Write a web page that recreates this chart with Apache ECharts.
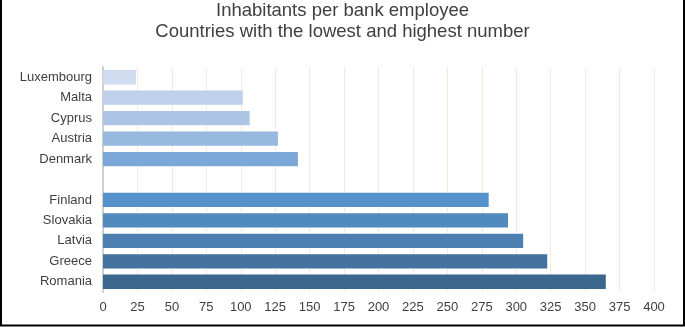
<!DOCTYPE html>
<html>
<head>
<meta charset="utf-8">
<script src="https://cdn.jsdelivr.net/npm/echarts@6/dist/echarts.min.js"></script>
<style>
  html, body { margin: 0; padding: 0; background: #ffffff; }
  #chart { width: 685px; height: 327px; }
</style>
</head>
<body>
<div id="chart"></div>
<script>
// Countries, top to bottom; the blank entry separates the lowest five from the highest five
const countries = ['Luxembourg', 'Malta', 'Cyprus', 'Austria', 'Denmark', '',
                   'Finland', 'Slovakia', 'Latvia', 'Greece', 'Romania'];
// Inhabitants per bank employee
const inhabitants = [24, 101.5, 106.5, 127, 141.5, null, 280, 294, 305, 322.5, 365];
// Bar shades, light to dark
const barColors = ['#cfdcef', '#bed0ea', '#adc5e5', '#97b8df', '#7ba7d8', '#ffffff',
                   '#5692cb', '#518abd', '#4b7fb0', '#45739f', '#3b668e'];
const xTicks = { min: 0, max: 400, interval: 25 };

const chart = echarts.init(document.getElementById('chart'), null, { renderer: 'canvas' });

chart.setOption({
  animation: false,
  backgroundColor: '#ffffff',
  title: {
    text: 'Inhabitants per bank employee\nCountries with the lowest and highest number',
    left: 'center',
    top: 0,
    padding: 0,
    textStyle: {
      fontFamily: 'Liberation Sans, Arial, sans-serif',
      fontSize: 18.5,
      fontWeight: 'normal',
      color: '#404040',
      lineHeight: 21
    }
  },
  grid: { left: 103, right: 31, top: 67, bottom: 35, containLabel: false },
  xAxis: {
    type: 'value',
    min: xTicks.min,
    max: xTicks.max,
    interval: xTicks.interval,
    axisLine: { show: false },
    axisTick: { show: false },
    axisLabel: {
      margin: 9,
      fontFamily: 'Liberation Sans, Arial, sans-serif',
      fontSize: 13,
      color: '#404040'
    },
    splitLine: { show: true, lineStyle: { color: '#fde9dc', width: 1 } }
  },
  yAxis: {
    type: 'category',
    data: countries,
    inverse: true,
    axisLine: { show: true, lineStyle: { color: '#cfcfcf', width: 2 } },
    axisTick: { show: false },
    axisLabel: {
      margin: 11,
      fontFamily: 'Liberation Sans, Arial, sans-serif',
      fontSize: 13,
      color: '#404040'
    },
    splitLine: { show: false }
  },
  series: [{
    type: 'bar',
    barCategoryGap: '30%',
    data: inhabitants.map((v, i) => ({
      value: v === null ? '-' : v,
      itemStyle: { color: barColors[i] }
    }))
  }],
  graphic: [
    { type: 'line', shape: { x1: 1, y1: 0, x2: 1, y2: 326 }, style: { stroke: '#000', lineWidth: 2 } },
    { type: 'line', shape: { x1: 684, y1: 0, x2: 684, y2: 326 }, style: { stroke: '#000', lineWidth: 2 } },
    { type: 'line', shape: { x1: 0, y1: 325.5, x2: 685, y2: 325.5 }, style: { stroke: '#000', lineWidth: 2 } }
  ]
});
</script>
</body>
</html>
